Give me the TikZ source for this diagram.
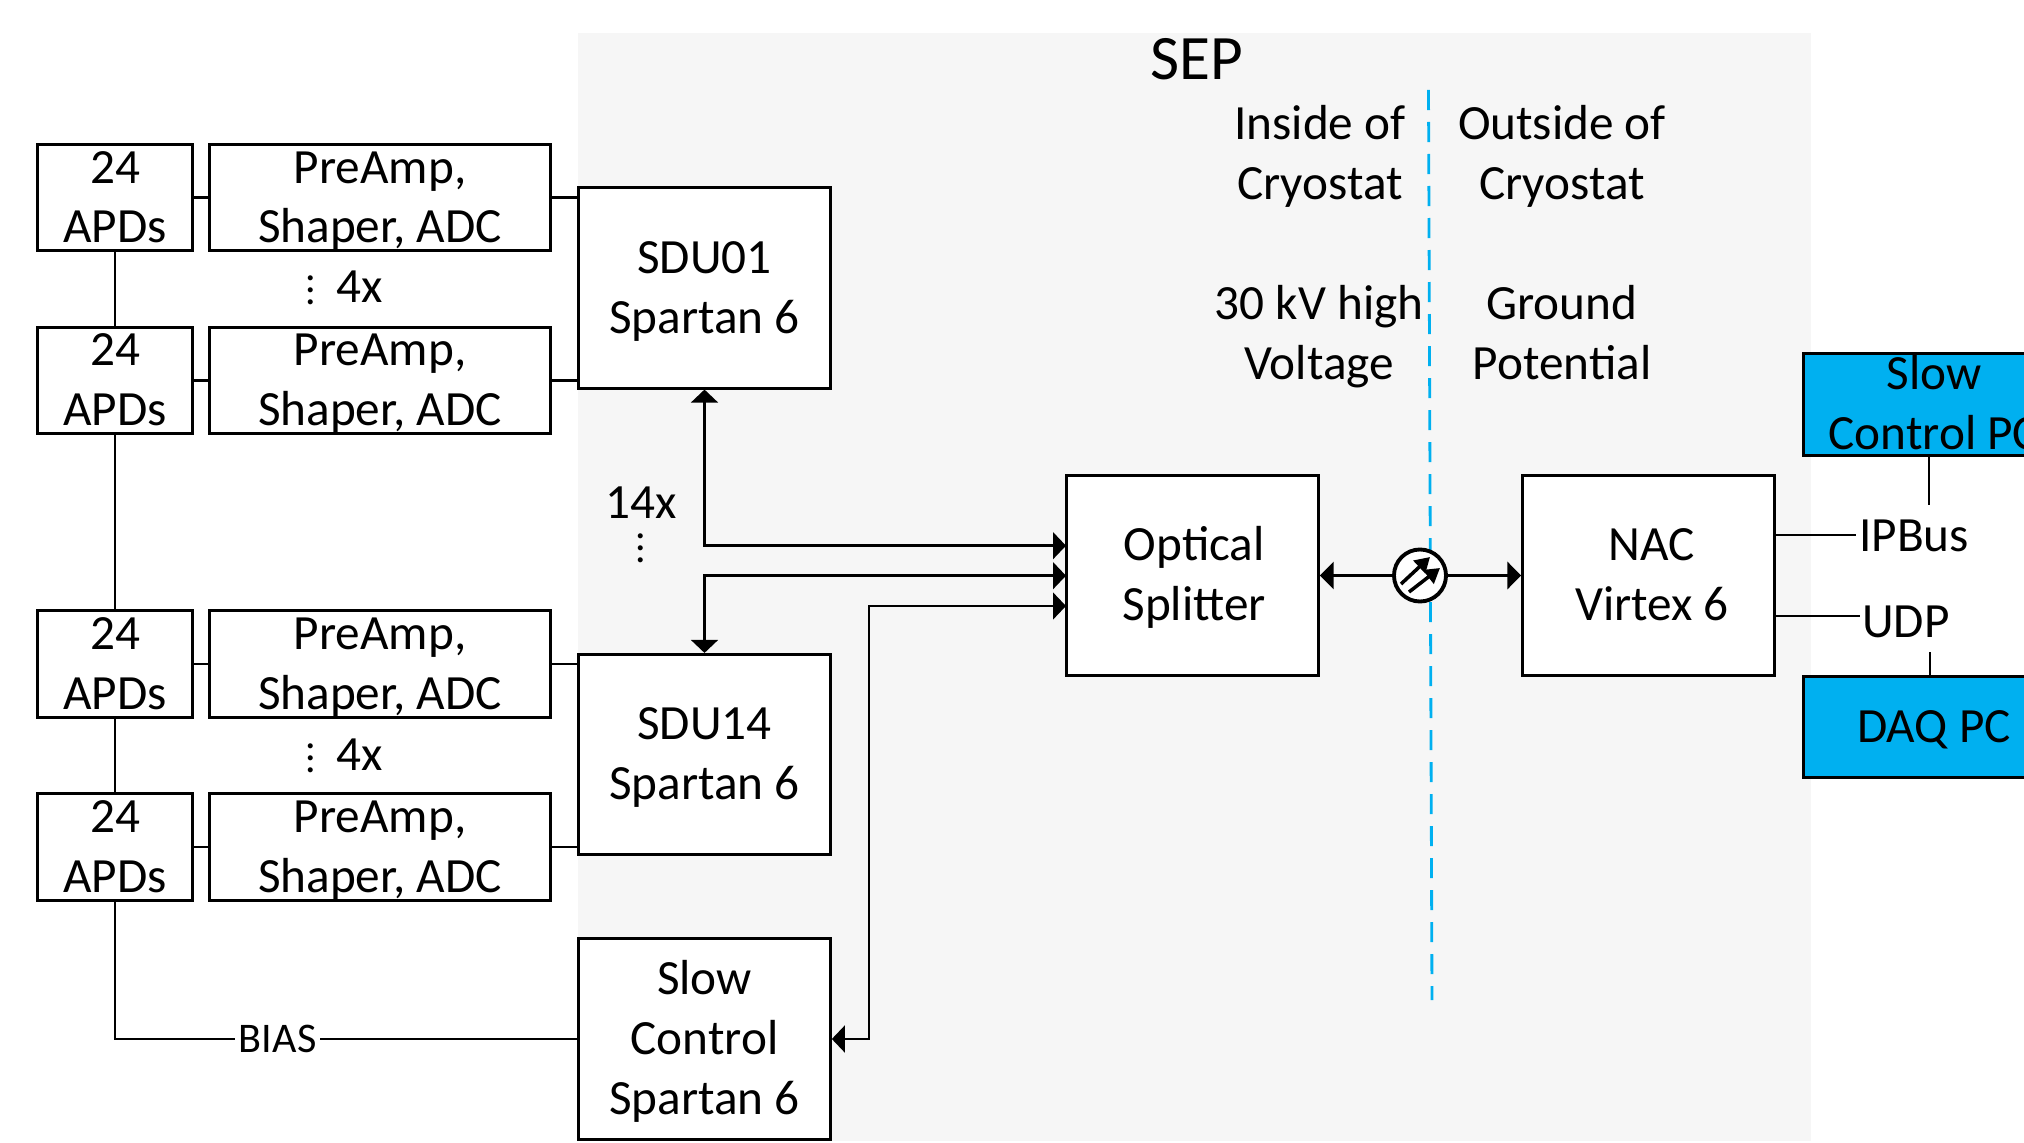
\documentclass[tikz,border=0pt]{standalone}
\usepackage{fontspec}
\setmainfont{Carlito}
\usetikzlibrary{arrows.meta}
\definecolor{sepgrey}{HTML}{F6F6F6}
\definecolor{pcblue}{HTML}{00B0F0}
\newcommand{\ts}{\rule{0pt}{12.2pt}}
\newcommand{\bs}{\rule[-3.5pt]{0pt}{3.5pt}}
\tikzset{
  plain/.style={align=center,inner sep=0pt,font=\fontsize{14}{17}\selectfont},
  block/.style={plain,inner ysep=-3pt,draw=black,line width=0.85pt,fill=white},
  apdbox/.style={block,minimum width=1.55cm,minimum height=1.065cm},
  ampbox/.style={block,minimum width=3.41cm,minimum height=1.065cm},
  fpgabox/.style={block,minimum width=2.515cm,minimum height=2cm},
  pcbox/.style={block,fill=pcblue,minimum width=2.6cm,minimum height=1.01cm},
  dotsmark/.style={inner sep=0pt,scale=0.85,font=\fontsize{14}{17}\selectfont},
  link/.style={line width=0.75pt},
  biarrow/.style={link,{Triangle[length=3.7pt,width=7.6pt]}-{Triangle[length=3.7pt,width=7.6pt]}},
  toarrow/.style={line width=1.1pt,-{Triangle[length=3.9pt,width=7.6pt]}},
  beam/.style={line width=1pt,-{Triangle[length=4.2pt,width=4.8pt]}},
}
\begin{document}
\begin{tikzpicture}[x=0.01cm,y=-0.01cm]
      \clip (0,0) rectangle (2024,1143);
      \fill[sepgrey] (578,33) rectangle (1811,1141);

      % Vordere Kette
      \foreach \nam/\y in {a/197.6,b/380.5,c/664,d/847}{
        \node[apdbox] (apd\nam) at (115,\y) {\ts 24\\APDs\bs};
        \node[ampbox] (amp\nam) at (380,\y) {\ts PreAmp,\\Shaper, ADC\bs};
        \draw[link] (apd\nam) -- (amp\nam);
      }

      % Bloecke
      \node[fpgabox] (sdua) at (704.5,288) {\ts SDU01\\Spartan 6\bs};
      \node[fpgabox] (sdub) at (704.5,754.5) {\ts SDU14\\Spartan 6\bs};
      \node[fpgabox] (slow) at (704.5,1039) {\ts Slow\\Control\\Spartan 6\bs};
      \node[fpgabox] (split) at (1192.5,575.5) {\ts\hspace*{1pt}Optical\\\hspace*{1pt}Splitter\bs};
      \node[fpgabox] (nac) at (1648.5,575.5) {\ts\hspace*{2pt}NAC\\\hspace*{2pt}Virtex 6\bs};
      \node[pcbox] (slowpc) at (1934,404.5) {\ts Slow\\Control PC\bs};
      \node[pcbox] (daqpc) at (1934,727) {\ts DAQ PC\bs};

      % Texte
      \node[inner sep=0pt,font=\fontsize{18}{21}\selectfont] (sep) at (1197,59) {SEP};
      \node[plain] (inside) at (1320,154) {\ts Inside of\\Cryostat\bs};
      \node[plain] (outside) at (1562,154) {\ts Outside of\\Cryostat\bs};
      \node[plain] (high) at (1319,334.5) {\ts 30 kV high\\Voltage\bs};
      \node[plain] (ground) at (1562,334.5) {\ts Ground\\Potential\bs};
      \node[dotsmark] (fouradots) at (311,281) {$\vdots$};
      \node[plain] (foura) at (360,287) {4x};
      \node[dotsmark] (fourbdots) at (311,749) {$\vdots$};
      \node[plain] (fourb) at (360,755) {4x};
      \node[plain] (many) at (641,503) {14x};
      \node[dotsmark] (manydots) at (641,539) {$\vdots$};
      \node[plain] (ipbus) at (1914,536) {IPBus};
      \node[plain] (udp) at (1906,622) {UDP};

      % Trennlinie
      \coordinate (cuttop) at (1428.5,90);
      \coordinate (cutbot) at (1432,1000);
      \draw[pcblue,line width=0.8pt,dash pattern=on 5.7pt off 3.4pt] (cuttop) -- (cutbot);

      % Verbindungen links
      \draw[link] (apda) -- (apdb);
      \draw[link] (apdb) -- (apdc);
      \draw[link] (apdc) -- (apdd);
      \draw[link] (ampa.east) -- (ampa.east -| sdua.west);
      \draw[link] (ampb.east) -- (ampb.east -| sdua.west);
      \draw[link] (ampc.east) -- (ampc.east -| sdub.west);
      \draw[link] (ampd.east) -- (ampd.east -| sdub.west);
      \draw[link] (apdd.south) |- (slow.west)
        node[pos=0.676,fill=white,inner sep=1pt,font=\fontsize{12}{14}\selectfont] (bias) {BIAS};

      % Verbindungen zum Splitter
      \coordinate (splita) at (1066,545.7);
      \coordinate (splitb) at (1066,575.7);
      \coordinate (splitc) at (1066,606);
      \coordinate (bendb) at (704.5,575.7);
      \coordinate (bendc) at (869,606);
      \draw[biarrow] (sdua.south) |- (splita);
      \draw[biarrow] (sdub.north) -- (bendb) -- (splitb);
      \draw[biarrow] (slow.east) -| (bendc) -- (splitc);

      % Koppler
      \node[draw=black,line width=1.1pt,fill=white,circle,minimum size=0.52cm,inner sep=0pt] (coupler) at (1420,575.5) {};
      \draw[toarrow] (coupler.west) -- (split.east);
      \draw[toarrow] (coupler.east) -- (nac.west);
      \draw[beam] (1401,584) -- (1430,557);
      \draw[beam] (1409,592) -- (1440,568);

      % Rechts
      \coordinate (ipbusend) at (1856,535);
      \coordinate (udpend) at (1860,616);
      \coordinate (ipbusup) at (1929,505);
      \coordinate (udpdown) at (1930,652);
      \draw[link] (nac.east |- ipbusend) -- (ipbusend);
      \draw[link] (nac.east |- udpend) -- (udpend);
      \draw[link] (ipbusup |- slowpc.south) -- (ipbusup);
      \draw[link] (udpdown |- daqpc.north) -- (udpdown);
\end{tikzpicture}
\end{document}
